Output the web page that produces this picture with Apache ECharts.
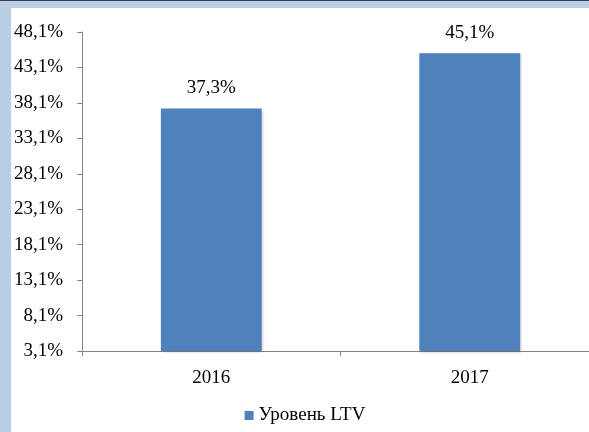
<!DOCTYPE html>
<html>
<head>
<meta charset="utf-8">
<script src="https://cdn.jsdelivr.net/npm/echarts@6/dist/echarts.min.js"></script>
<style>
  html, body {
    margin: 0;
    padding: 0;
    width: 589px;
    height: 432px;
    overflow: hidden;
    background: #b9cde5;
  }
  .topline {
    position: absolute;
    left: 0;
    top: 0;
    width: 589px;
    height: 1px;
    background: #3a3f46;
  }
  /* the plot runs a bit past the right edge in the original, so the box does too */
  #chart {
    position: absolute;
    left: 11px;
    top: 8px;
    width: 588px;
    height: 424px;
    background: #fff;
  }
</style>
</head>
<body>
<div class="topline"></div>
<div id="chart"></div>
<script>
const years = ['2016', '2017']
const ltv = [37.3, 45.1]
const seriesName = 'Уровень LTV'
const yMin = 3.1
const yMax = 48.1
const yStep = 5

const fmt = v => v.toFixed(1).replace('.', ',') + '%'
const font = '"Liberation Serif", "Times New Roman", serif'

const chart = echarts.init(document.getElementById('chart'), null, { renderer: 'canvas' })

chart.setOption({
  backgroundColor: '#fff',
  animation: false,
  textStyle: { fontFamily: font },
  grid: { left: 70, top: 24, right: 0, bottom: 81 },
  legend: {
    data: [seriesName],
    left: 'center',
    top: 393,
    icon: 'rect',
    itemWidth: 9,
    itemHeight: 9,
    itemGap: 6,
    textStyle: { fontFamily: font, fontSize: 19, color: '#000' },
  },
  xAxis: {
    type: 'category',
    data: years,
    axisLine: { lineStyle: { color: '#868686', width: 1 } },
    axisTick: { show: true, length: 5, lineStyle: { color: '#868686' } },
    axisLabel: { color: '#000', fontSize: 19, fontFamily: font, margin: 18 },
    splitLine: { show: false },
  },
  yAxis: {
    type: 'value',
    min: yMin,
    max: yMax,
    interval: yStep,
    axisLine: { show: true, lineStyle: { color: '#868686', width: 1 } },
    axisTick: { show: true, length: 5, lineStyle: { color: '#868686' } },
    axisLabel: {
      color: '#000',
      fontSize: 19,
      fontFamily: font,
      margin: 19,
      formatter: v => fmt(v),
    },
    splitLine: { show: false },
  },
  series: [
    {
      name: seriesName,
      type: 'bar',
      data: ltv,
      barWidth: '39%',
      itemStyle: {
        color: '#4f81bd',
        shadowColor: 'rgba(0, 0, 0, 0.25)',
        shadowBlur: 3,
        shadowOffsetX: 1,
        shadowOffsetY: 1,
      },
      label: {
        show: true,
        position: 'top',
        distance: 11,
        color: '#000',
        fontSize: 19,
        fontFamily: font,
        formatter: p => fmt(p.value),
      },
    },
  ],
})
</script>
</body>
</html>
